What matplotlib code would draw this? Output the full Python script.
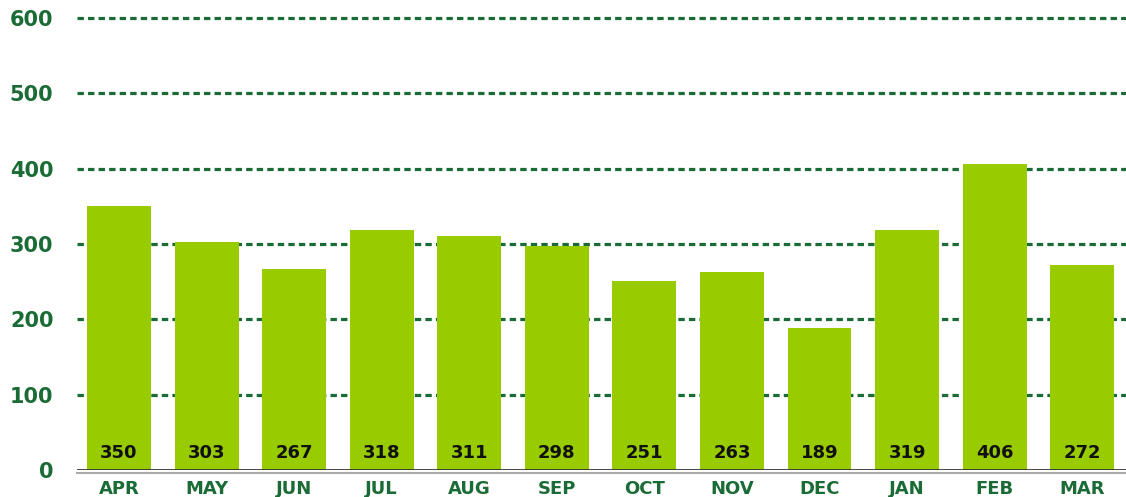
import matplotlib
matplotlib.use("Agg")
import matplotlib.pyplot as plt
import numpy as np

# monthly values
months = ["APR", "MAY", "JUN", "JUL", "AUG", "SEP", "OCT", "NOV", "DEC", "JAN", "FEB", "MAR"]
values = [350, 303, 267, 318, 311, 298, 251, 263, 189, 319, 406, 272]
yticks = [0, 100, 200, 300, 400, 500, 600]

green_dark = "#1a6b35"
bar_green = "#99cc00"

fig = plt.figure(figsize=(11.26, 4.97), dpi=100)
ax = fig.add_axes([77 / 1126, 27 / 497, 1 - 77 / 1126, (470 - 18) / 497])

x = np.arange(len(months))
ax.bar(x, values, width=0.73, color=bar_green, zorder=3)

# dashed grid lines
for t in yticks[1:]:
    ax.axhline(t, color=green_dark, lw=2.3, ls=(0, (2, 1.3)), zorder=1, clip_on=False)

# base line
ax.axhline(0, color="#333333", lw=2, zorder=4)
ax.axhline(-4, color="#aaaaaa", lw=1.5, zorder=4, clip_on=False)

for xi, v in zip(x, values):
    ax.text(xi, 22, str(v), ha="center", va="center", fontsize=13,
            fontweight="semibold", color="#111111", zorder=5)

ax.set_xlim(-0.48, 11.5)
ax.set_ylim(0, 600)
ax.set_xticks(x)
ax.set_xticklabels(months, fontsize=13, fontweight="bold", color=green_dark)
ax.set_yticks(yticks)
ax.set_yticklabels([str(t) for t in yticks], fontsize=15, fontweight="bold", color=green_dark)
ax.tick_params(axis="both", length=0)
ax.tick_params(axis="y", pad=17)
ax.tick_params(axis="x", pad=7)
for s in ax.spines.values():
    s.set_visible(False)

fig.savefig("out.png", dpi=100)
